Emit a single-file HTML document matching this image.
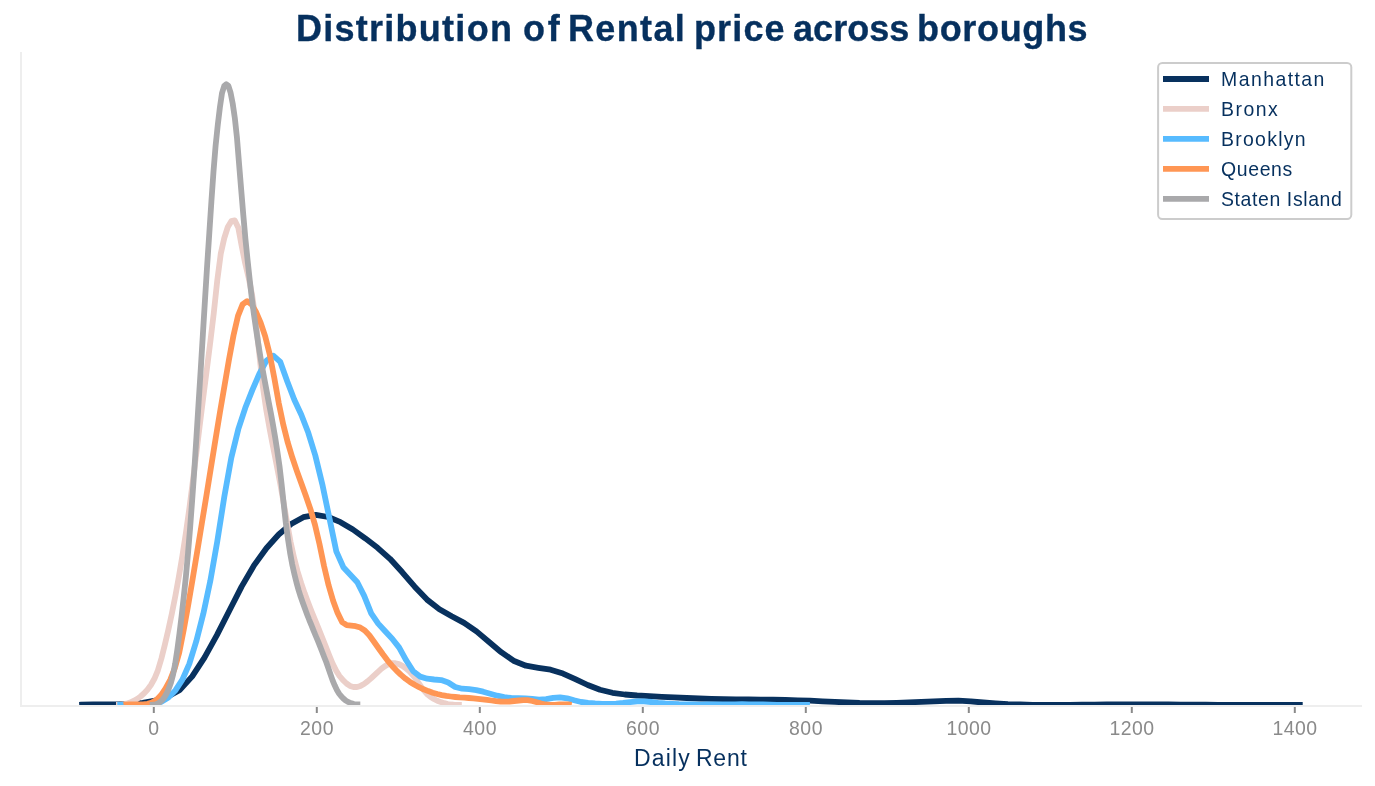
<!DOCTYPE html>
<html><head><meta charset="utf-8"><title>Distribution of Rental price across boroughs</title>
<style>
html,body{margin:0;padding:0;background:#fff;}
body{width:1375px;height:786px;overflow:hidden;position:relative;font-family:"Liberation Sans",sans-serif;}
svg{position:absolute;left:0;top:0;}
.t{position:absolute;white-space:nowrap;line-height:1;will-change:transform;}
#title span{top:11px;font-weight:bold;font-size:36px;color:#06305e;-webkit-text-stroke:0.35px #06305e;}
#xlabel span{top:747px;font-size:23px;color:#06305e;}
.tick{font-size:19.44px;letter-spacing:0.5px;color:#8a8a8a;width:80px;text-align:center;top:719px;}
.leg{font-size:19.44px;color:#06305e;left:1221.4px;}
</style></head><body>
<svg width="1375" height="786" viewBox="0 0 1375 786">
<defs><clipPath id="ax"><rect x="21" y="52" width="1341" height="653.9"/></clipPath></defs>
<g clip-path="url(#ax)" fill="none" stroke-width="5.8" stroke-linejoin="round" stroke-linecap="butt">
<polyline points="79.2,704.8 81.0,704.7 93.3,704.3 105.7,704.3 118.1,704.3 130.4,704.0 142.8,702.9 155.1,700.7 167.5,696.7 179.9,689.9 192.2,676.4 204.6,657.3 216.9,635.1 229.3,610.8 241.6,586.6 254.0,565.4 266.4,548.2 278.7,534.5 291.1,524.0 303.4,517.2 315.8,514.9 328.2,517.0 340.5,522.2 352.9,529.5 365.2,538.3 377.6,547.8 390.0,558.8 402.3,572.3 414.7,586.7 427.0,599.6 439.4,609.3 451.7,616.3 464.1,622.9 476.5,631.4 488.8,641.7 501.2,652.2 513.5,660.7 525.9,665.7 538.3,667.8 550.6,669.7 563.0,673.6 575.3,679.1 587.7,685.0 600.0,689.8 612.4,692.8 624.8,694.5 637.1,695.5 649.5,696.1 661.8,696.8 674.2,697.4 686.6,698.0 698.9,698.5 711.3,698.9 723.6,699.2 736.0,699.3 748.4,699.5 760.7,699.6 773.1,699.7 785.4,700.0 797.8,700.3 810.1,700.7 822.5,701.3 834.9,701.9 847.2,702.5 859.6,703.0 871.9,703.2 884.3,703.2 896.7,702.9 909.0,702.4 921.4,701.8 933.7,701.3 946.1,700.8 958.4,700.7 970.8,701.4 983.2,702.5 995.5,703.4 1007.9,704.1 1020.2,704.5 1032.6,704.8 1045.0,704.8 1057.3,704.8 1069.7,704.8 1082.0,704.7 1094.4,704.6 1106.7,704.5 1119.1,704.4 1131.5,704.4 1143.8,704.4 1156.2,704.5 1168.5,704.5 1180.9,704.6 1193.3,704.7 1205.6,704.7 1218.0,704.8 1230.3,704.8 1242.7,704.8 1255.1,704.8 1267.4,704.8 1279.8,704.8 1292.1,704.8 1302.7,704.8" stroke="#08315e"/>
<polyline points="116.0,704.8 119.5,704.8 123.0,704.5 126.5,703.7 130.0,702.6 133.5,701.0 137.0,699.0 140.5,696.5 143.9,693.5 147.4,689.7 150.9,685.0 154.4,678.8 157.9,670.3 161.4,658.5 164.9,644.5 168.4,629.5 171.9,613.3 175.4,595.7 178.9,576.6 182.4,555.8 185.9,533.0 189.4,508.2 192.8,481.5 196.3,453.5 199.8,425.0 203.3,396.9 206.8,369.6 210.3,342.0 213.8,312.8 217.3,280.1 220.8,253.5 224.3,238.0 227.8,227.0 231.3,221.2 234.8,220.4 238.3,227.7 241.7,246.0 245.2,263.4 248.7,278.0 252.2,295.6 255.7,319.9 259.2,353.0 262.7,385.5 266.2,409.5 269.7,429.3 273.2,447.5 276.7,465.3 280.2,483.5 283.7,503.1 287.2,523.4 290.6,542.1 294.1,558.0 297.6,571.5 301.1,582.9 304.6,593.1 308.1,602.5 311.6,611.5 315.1,620.2 318.6,628.7 322.1,637.3 325.6,646.0 329.1,655.0 332.6,663.6 336.1,670.6 339.5,676.0 343.0,680.2 346.5,683.5 350.0,685.9 353.5,687.0 357.0,687.0 360.5,685.9 364.0,684.0 367.5,681.4 371.0,678.4 374.5,675.1 378.0,671.8 381.5,668.7 385.0,666.1 388.4,664.2 391.9,663.2 395.4,663.2 398.9,664.1 402.4,665.9 405.9,668.3 409.4,671.4 412.9,675.2 416.4,679.8 419.9,684.9 423.4,689.9 426.9,693.9 430.4,696.8 433.9,699.0 437.3,700.8 440.8,702.1 444.3,703.2 447.8,704.0 451.3,704.5 454.8,704.8 458.3,704.8 461.8,704.8" stroke="#ebcfc9"/>
<polyline points="117.3,704.8 119.4,704.8 126.4,704.8 133.4,704.8 140.4,704.8 147.4,704.8 154.4,704.0 161.4,701.8 168.4,697.6 175.4,690.4 182.4,679.7 189.3,663.9 196.3,641.2 203.3,613.8 210.3,580.9 217.3,541.3 224.3,496.8 231.3,457.7 238.3,429.2 245.3,407.8 252.3,390.1 259.3,373.9 266.3,360.8 273.3,355.7 280.3,361.9 287.3,381.5 294.3,399.7 301.3,414.7 308.3,432.8 315.3,455.5 322.3,484.2 329.3,517.7 336.3,551.3 343.3,567.2 350.3,574.7 357.3,582.3 364.2,595.9 371.2,613.3 378.2,623.6 385.2,631.3 392.2,638.7 399.2,647.6 406.2,660.3 413.2,671.3 420.2,676.6 427.2,678.7 434.2,679.5 441.2,680.1 448.2,682.5 455.2,687.0 462.2,688.7 469.2,689.2 476.2,690.1 483.2,691.7 490.2,693.7 497.2,695.7 504.2,697.2 511.2,698.0 518.2,698.2 525.2,698.3 532.2,699.0 539.1,699.7 546.1,699.1 553.1,697.9 560.1,697.3 567.1,698.3 574.1,700.3 581.1,702.0 588.1,702.9 595.1,703.5 602.1,703.9 609.1,703.9 616.1,703.7 623.1,703.0 630.1,702.1 637.1,701.4 644.1,701.3 651.1,702.0 658.1,702.8 665.1,703.4 672.1,703.8 679.1,704.2 686.1,704.4 693.1,704.5 700.1,704.6 707.0,704.5 714.0,704.5 721.0,704.4 728.0,704.3 735.0,704.3 742.0,704.2 749.0,704.3 756.0,704.4 763.0,704.5 770.0,704.7 777.0,704.8 784.0,704.8 791.0,704.8 798.0,704.8 805.0,704.8 809.9,704.8" stroke="#57bbff"/>
<polyline points="123.6,704.8 124.9,704.6 129.4,704.4 133.9,704.4 138.5,704.5 143.0,704.4 147.5,703.8 152.0,702.5 156.6,699.7 161.1,695.0 165.6,688.3 170.2,679.8 174.7,668.5 179.2,652.6 183.7,629.9 188.3,604.4 192.8,578.1 197.3,551.1 201.8,523.6 206.4,495.8 210.9,467.8 215.4,440.0 219.9,412.6 224.5,385.8 229.0,359.6 233.5,335.4 238.0,315.8 242.6,304.3 247.1,301.1 251.6,304.5 256.2,312.3 260.7,322.9 265.2,336.4 269.7,354.3 274.3,378.0 278.8,403.3 283.3,424.8 287.8,442.7 292.4,457.8 296.9,471.1 301.4,483.6 305.9,496.1 310.5,509.4 315.0,524.9 319.5,544.2 324.0,565.9 328.6,585.3 333.1,600.7 337.6,612.9 342.2,622.2 346.7,625.2 351.2,625.7 355.7,626.2 360.3,627.6 364.8,630.5 369.3,635.2 373.8,641.5 378.4,648.0 382.9,654.3 387.4,660.3 391.9,665.7 396.5,670.6 401.0,674.9 405.5,678.7 410.0,681.9 414.6,684.7 419.1,687.2 423.6,689.3 428.2,691.1 432.7,692.7 437.2,694.0 441.7,695.1 446.3,695.9 450.8,696.5 455.3,697.0 459.8,697.4 464.4,697.7 468.9,698.0 473.4,698.4 477.9,698.8 482.5,699.3 487.0,699.9 491.5,700.5 496.0,701.1 500.6,701.5 505.1,701.7 509.6,701.5 514.1,701.0 518.7,700.5 523.2,700.1 527.7,700.2 532.3,701.0 536.8,702.2 541.3,703.5 545.8,704.5 550.4,704.8 554.9,704.8 559.4,704.5 563.9,704.3 568.5,704.4 571.7,704.8" stroke="#ff9654"/>
<polyline points="149.7,704.8 151.8,704.8 154.0,704.7 156.1,704.2 158.2,703.3 160.3,701.8 162.5,699.8 164.6,697.0 166.7,693.3 168.8,688.5 171.0,682.4 173.1,674.5 175.2,663.6 177.4,649.2 179.5,633.3 181.6,616.1 183.7,597.2 185.9,576.4 188.0,553.4 190.1,527.9 192.2,499.7 194.4,468.9 196.5,436.3 198.6,402.7 200.8,368.5 202.9,334.0 205.0,299.8 207.1,266.1 209.3,233.2 211.4,201.4 213.5,171.5 215.6,145.8 217.8,124.8 219.9,107.3 222.0,93.1 224.2,86.0 226.3,84.2 228.4,85.8 230.5,92.3 232.7,103.5 234.8,117.8 236.9,137.1 239.0,162.9 241.2,189.7 243.3,215.1 245.4,238.7 247.6,260.2 249.7,279.8 251.8,297.8 253.9,314.2 256.1,329.3 258.2,343.3 260.3,356.4 262.4,368.6 264.6,380.2 266.7,391.4 268.8,402.6 271.0,413.9 273.1,425.5 275.2,437.8 277.3,451.1 279.5,466.2 281.6,484.1 283.7,503.8 285.8,522.8 288.0,539.2 290.1,552.9 292.2,564.3 294.4,574.1 296.5,582.6 298.6,590.1 300.7,596.8 302.9,603.0 305.0,608.8 307.1,614.4 309.2,619.8 311.4,625.1 313.5,630.3 315.6,635.5 317.8,640.7 319.9,645.9 322.0,651.2 324.1,656.7 326.3,662.3 328.4,668.2 330.5,674.4 332.6,680.4 334.8,685.6 336.9,690.0 339.0,693.5 341.2,696.3 343.3,698.5 345.4,700.3 347.5,701.6 349.7,702.6 351.8,703.4 353.9,704.0 356.0,704.3 358.2,704.5 360.3,704.5" stroke="#a9a9ab"/>
</g>
<rect x="20" y="52" width="2" height="655" fill="#eeeeee"/>
<rect x="20" y="705" width="1342" height="2" fill="#eeeeee"/>
<g fill="#8a8a8a">
<rect x="152.8" y="707" width="2" height="6"/>
<rect x="315.8" y="707" width="2" height="6"/>
<rect x="478.8" y="707" width="2" height="6"/>
<rect x="641.8" y="707" width="2" height="6"/>
<rect x="804.8" y="707" width="2" height="6"/>
<rect x="967.8" y="707" width="2" height="6"/>
<rect x="1130.8" y="707" width="2" height="6"/>
<rect x="1293.8" y="707" width="2" height="6"/>
</g>
<rect x="1158.1" y="63.1" width="193.2" height="155.9" rx="4.2" ry="4.2" fill="#ffffff" fill-opacity="0.8" stroke="#cccccc" stroke-width="2"/>
<g stroke-width="5.8" fill="none">
<line x1="1163" y1="79.0" x2="1209" y2="79.0" stroke="#08315e"/>
<line x1="1163" y1="108.8" x2="1209" y2="108.8" stroke="#ebcfc9"/>
<line x1="1163" y1="138.8" x2="1209" y2="138.8" stroke="#57bbff"/>
<line x1="1163" y1="168.8" x2="1209" y2="168.8" stroke="#ff9654"/>
<line x1="1163" y1="198.8" x2="1209" y2="198.8" stroke="#a9a9ab"/>
</g>
</svg>
<div id="title"><span class="t" style="left:295.72px;letter-spacing:1.264px">Distribution</span> <span class="t" style="left:522.61px;letter-spacing:2.666px">of</span> <span class="t" style="left:568.22px;letter-spacing:1.369px">Rental</span> <span class="t" style="left:694.27px;letter-spacing:1.125px">price</span> <span class="t" style="left:792.94px;letter-spacing:0.052px">across</span> <span class="t" style="left:917.27px;letter-spacing:0.662px">boroughs</span></div>
<div id="xlabel"><span class="t" style="left:633.98px;letter-spacing:1.162px">Daily</span> <span class="t" style="left:696.08px;letter-spacing:0.765px">Rent</span></div>
<div class="t tick" style="left:114.1px">0</div>
<div class="t tick" style="left:277.1px">200</div>
<div class="t tick" style="left:440.1px">400</div>
<div class="t tick" style="left:603.0px">600</div>
<div class="t tick" style="left:766.0px">800</div>
<div class="t tick" style="left:929.0px">1000</div>
<div class="t tick" style="left:1092.0px">1200</div>
<div class="t tick" style="left:1255.0px">1400</div>
<div class="t leg" style="top:70.0px;letter-spacing:1.44px">Manhattan</div>
<div class="t leg" style="top:99.8px;letter-spacing:1.5px">Bronx</div>
<div class="t leg" style="top:129.8px;letter-spacing:1.27px">Brooklyn</div>
<div class="t leg" style="top:159.8px;letter-spacing:0.64px">Queens</div>
<div class="t leg" style="top:189.8px;letter-spacing:0.61px">Staten Island</div>
</body></html>
